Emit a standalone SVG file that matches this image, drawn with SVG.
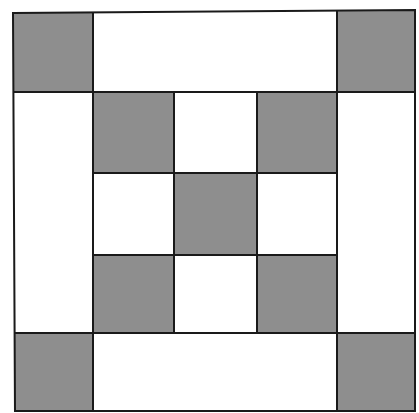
<svg xmlns="http://www.w3.org/2000/svg" width="419" height="413" viewBox="0 0 419 413">
<style>
.g{fill:#8e8e8e}
.l{stroke:#1a1a1a;stroke-width:2;fill:none}
</style>
<rect width="419" height="413" fill="#fff"/>
<g id="cells">
<rect id="c1" class="g" x="14" y="12" width="79" height="80"/>
<rect id="c2" class="g" x="337" y="11" width="78" height="81"/>
<rect id="c3" class="g" x="14" y="333" width="79" height="78"/>
<rect id="c4" class="g" x="337" y="333" width="78" height="78"/>
<rect id="c5" class="g" x="93" y="92" width="81" height="81"/>
<rect id="c6" class="g" x="257" y="92" width="80" height="81"/>
<rect id="c7" class="g" x="174" y="173" width="83" height="82"/>
<rect id="c8" class="g" x="93" y="255" width="81" height="78"/>
<rect id="c9" class="g" x="257" y="255" width="80" height="78"/>
</g>
<g id="lines" class="l">
<path d="M13,13 L415,10 L415,411 L15,411 Z"/>
<path d="M93,13 V411 M174,92 V333 M257,92 V333 M337,11 V411"/>
<path d="M13,92 H415 M93,173 H337 M93,255 H337 M14,333 H415"/>
</g>
</svg>
